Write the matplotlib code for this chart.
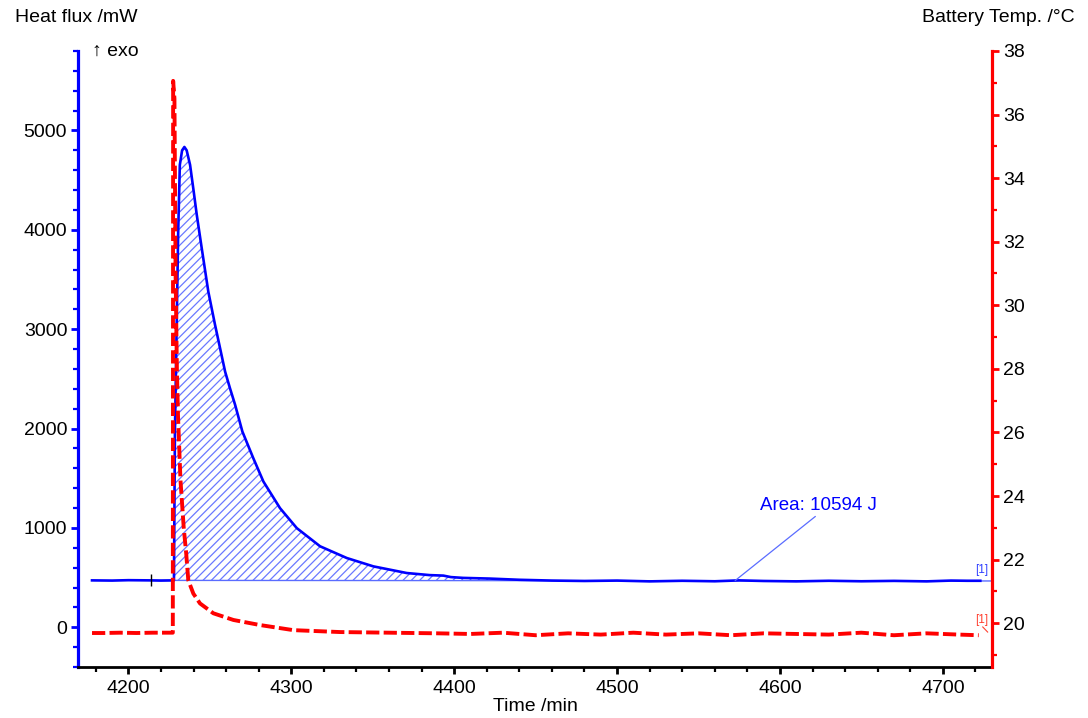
import matplotlib
matplotlib.use("Agg")
import matplotlib.pyplot as plt
from matplotlib.ticker import MultipleLocator
import numpy as np

plt.rcParams['font.family'] = ['Liberation Sans', 'DejaVu Sans']
plt.rcParams['hatch.linewidth'] = 0.9

# ---- data ----
heat_time = [4177.7, 4190, 4200, 4213.7, 4220, 4228.0, 4228.6, 4229.6, 4230.6, 4231.6,
             4233.0, 4234.4, 4235.8, 4237.9, 4240.0, 4242.0, 4245.1, 4249.1, 4253.2, 4259.4,
             4262.4, 4265.5, 4270.0, 4276.7, 4282.9, 4293.1, 4303.4, 4317.7, 4334.1, 4350.4,
             4370.9, 4385, 4393.4, 4398, 4405.5, 4422, 4440, 4460, 4480, 4500, 4520, 4540,
             4560, 4575, 4590, 4610, 4630, 4650, 4670, 4690, 4705, 4715, 4723]
heat_flux = [472, 470, 474, 472, 470, 472, 1970, 2975, 3980, 4653,
             4800, 4834, 4800, 4653, 4400, 4151, 3809, 3377, 3045, 2573,
             2405, 2241, 1970, 1702, 1467, 1199, 998, 815, 697, 613,
             546, 525, 520, 505, 497, 490, 478, 470, 466, 470, 462, 468,
             463, 472, 466, 462, 468, 463, 467, 462, 470, 468, 468]

temp_time = [4177.7, 4185, 4195, 4205, 4215, 4227.3, 4227.5, 4228.3, 4229.0, 4229.8,
             4230.5, 4232, 4234, 4235.5, 4236.8, 4239.9, 4244, 4252.2, 4264.5, 4280.9,
             4301.3, 4330, 4360, 4390, 4410, 4430, 4450, 4470, 4490, 4510, 4530, 4550,
             4570, 4590, 4610, 4630, 4650, 4670, 4690, 4710, 4722]
battery_temp = [19.69, 19.69, 19.70, 19.69, 19.70, 19.70, 37.06, 36.5, 31.0, 28.0,
                26.5, 24.5, 23.0, 22.2, 21.35, 20.93, 20.62, 20.31, 20.10, 19.94,
                19.78, 19.72, 19.70, 19.68, 19.66, 19.70, 19.62, 19.68, 19.64, 19.70, 19.64, 19.68,
                19.62, 19.68, 19.66, 19.64, 19.70, 19.62, 19.68, 19.64, 19.62]

baseline_time = [4213.7, 4730]
baseline_flux = [472, 466]
area_text = "Area: 10594 J"

# ---- figure ----
fig = plt.figure(figsize=(10.88, 7.18), dpi=100)
ax = fig.add_axes([0.072, 0.071, 0.8395, 0.858])
ax2 = ax.twinx()

blue = '#0000ff'
red = '#ff0000'

# hatched area between curve and baseline
ht = np.array(heat_time)
hf = np.array(heat_flux, dtype=float)
bl = np.interp(ht, baseline_time, baseline_flux)
mask = (ht >= 4228.0) & (ht <= 4470)
ax.fill_between(ht[mask], bl[mask], np.maximum(hf[mask], bl[mask]),
                facecolor='none', edgecolor='#6a78ff', hatch='////', linewidth=0)

ax.plot(baseline_time, baseline_flux, color='#5a6cff', lw=1.0)
ax.plot(heat_time, heat_flux, color=blue, lw=1.9, zorder=3)
ax.plot([baseline_time[0]], [baseline_flux[0]], marker='|', color='black',
        markersize=9, mew=1.0, zorder=4)

ax.annotate(area_text, xy=(4572.5, 470), xytext=(4588, 1229),
            color=blue, fontsize=13.5, va='center', ha='left',
            arrowprops=dict(arrowstyle='-', color='#5a6cff', lw=0.9,
                            shrinkA=0, shrinkB=0, relpos=(0.5, 0)))
ax.text(4724, 515, '[1]', color='#3040ff', fontsize=8.5, ha='center', va='bottom')

ax2.plot(temp_time, battery_temp, color=red, lw=2.8, dashes=(3.4, 1.1))
ax2.text(4724, 19.9, '[1]', color='#ff4030', fontsize=8.5, ha='center', va='bottom')
ax2.plot([4724.5, 4727.5], [19.88, 19.72], color='#ff4030', lw=0.8)

# limits
ax.set_xlim(4169.3, 4730)
ax.set_ylim(-400, 5800)
ax2.set_ylim(18.62, 38.0)

ax.xaxis.set_major_locator(MultipleLocator(100))
ax.xaxis.set_minor_locator(MultipleLocator(20))
ax.yaxis.set_major_locator(MultipleLocator(1000))
ax.yaxis.set_minor_locator(MultipleLocator(200))
ax2.yaxis.set_major_locator(MultipleLocator(2))
ax2.yaxis.set_minor_locator(MultipleLocator(1))

# spines
for a in (ax, ax2):
    a.spines['top'].set_visible(False)
ax.spines['right'].set_visible(False)
ax2.spines['left'].set_visible(False)
ax2.spines['bottom'].set_visible(False)
ax.spines['left'].set_color(blue)
ax.spines['left'].set_linewidth(2.3)
ax.spines['bottom'].set_color('black')
ax.spines['bottom'].set_linewidth(2.0)
ax2.spines['right'].set_color(red)
ax2.spines['right'].set_linewidth(2.3)

ax.tick_params(axis='y', which='major', colors=blue, labelcolor='black',
               length=5, width=2, labelsize=14, pad=3)
ax.tick_params(axis='y', which='minor', colors=blue, length=3.5, width=1.6)
ax.tick_params(axis='x', which='major', colors='black', length=5, width=2,
               labelsize=14, pad=4)
ax.tick_params(axis='x', which='minor', colors='black', length=3.5, width=1.6)
ax2.tick_params(axis='y', which='major', colors=red, labelcolor='black',
                length=5, width=2, labelsize=14, pad=3)
ax2.tick_params(axis='y', which='minor', colors=red, length=3.5, width=1.6)

ax.set_xlabel('Time /min', fontsize=14, labelpad=1)

fig.text(15 / 1088, 1 - 17 / 718, 'Heat flux /mW', fontsize=14, ha='left', va='center')
fig.text(1075 / 1088, 1 - 17 / 718, 'Battery Temp. /°C', fontsize=14, ha='right', va='center')
fig.text(92 / 1088, 1 - 51 / 718, '↑ exo', fontsize=14, ha='left', va='center')

fig.savefig('out.png', dpi=100)
